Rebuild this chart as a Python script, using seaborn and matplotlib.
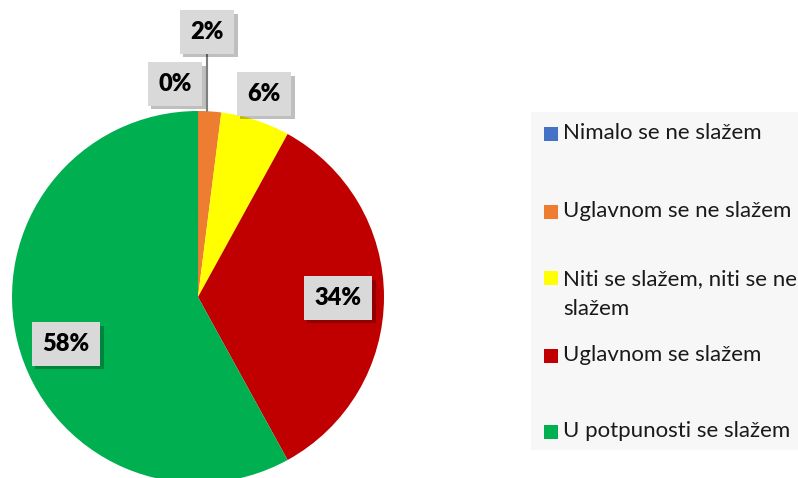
import numpy as np
import matplotlib
matplotlib.use('Agg')
import matplotlib.pyplot as plt
import matplotlib.patheffects as pe
from matplotlib.patches import Rectangle
import seaborn as sns

# Data
categories = ['Nimalo se ne slažem', 'Uglavnom se ne slažem',
              'Niti se slažem, niti se ne\nslažem', 'Uglavnom se slažem',
              'U potpunosti se slažem']
values = [0, 2, 6, 34, 58]
colors = ['#4472C4', '#ED7D31', '#FFFF00', '#C00000', '#00B050']

# Layout (pixels, origin top-left)
W, H = 798, 478
pie_cx, pie_cy, pie_r = 198, 297, 186
label_pos = [(175, 84), (207, 32), (264, 94), (338, 298), (66, 344)]
legend_rows = [133, 211, 294, 355, 431]

sns.set_theme(style='white')
plt.rcParams['font.family'] = ['Lato', 'DejaVu Sans']

fig = plt.figure(figsize=(W / 100, H / 100), dpi=100)
ax = fig.add_axes([0, 0, 1, 1])


def Y(y):
    return H - y


wedges, _ = ax.pie(values, colors=colors, startangle=90, counterclock=False,
                   center=(pie_cx, Y(pie_cy)), radius=pie_r, frame=True,
                   wedgeprops=dict(linewidth=0))
ax.set_xlim(0, W)
ax.set_ylim(0, H)
ax.set_aspect('equal')
ax.axis('off')

# leader line for the 2% label
ax.plot([207, 207], [Y(53), Y(pie_cy - pie_r)], color='#7f7f7f', lw=1.5, zorder=3)

for v, (lx, ly) in zip(values, label_pos):
    t = ax.text(lx, Y(ly), f'{v}%', ha='center', va='center', fontsize=17,
                fontweight='heavy', color='black', zorder=5,
                bbox=dict(boxstyle='square,pad=0.45', facecolor='#d9d9d9',
                          edgecolor='none'))
    t.get_bbox_patch().set_path_effects([
        pe.SimplePatchShadow(offset=(2.5, -2.5), shadow_rgbFace='black', alpha=0.25),
        pe.Normal()])

# legend
ax.add_patch(Rectangle((531, Y(450)), W - 531, 450 - 112, facecolor='#f7f7f7',
                       edgecolor='none', zorder=1))
for cat, col, ry in zip(categories, colors, legend_rows):
    first = ry if '\n' not in cat else ry - 17
    ax.add_patch(Rectangle((544, Y(first + 8)), 14, 14, facecolor=col,
                           edgecolor='none', zorder=2))
    ax.text(563, Y(ry), cat, ha='left', va='center', fontsize=16,
            color='#1a1a1a', linespacing=1.6, zorder=2)

fig.savefig('out.png', dpi=100)
